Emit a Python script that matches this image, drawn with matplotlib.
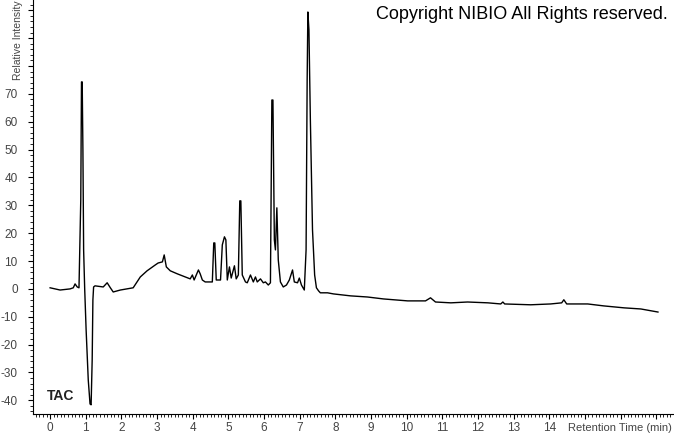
import matplotlib
matplotlib.use('Agg')
import matplotlib.pyplot as plt
from matplotlib.ticker import MultipleLocator, FixedLocator, FuncFormatter

# retention time (min) and relative intensity
time_min = [0.00, 0.28, 0.56, 0.65, 0.70, 0.76, 0.81, 0.86, 0.88, 0.90, 0.92, 0.94,
            0.97, 1.01, 1.07, 1.12, 1.15, 1.18, 1.20, 1.22, 1.26, 1.49, 1.60, 1.69,
            1.77, 1.97, 2.33, 2.53, 2.72, 2.95, 3.03, 3.15, 3.20, 3.26, 3.37, 3.57,
            3.79, 3.93, 3.99, 4.04, 4.16, 4.21, 4.27, 4.35, 4.55, 4.59, 4.62, 4.66,
            4.78, 4.83, 4.89, 4.93, 4.97, 5.03, 5.08, 5.17, 5.22, 5.28, 5.32, 5.35,
            5.39, 5.48, 5.53, 5.62, 5.70, 5.76, 5.81, 5.90, 5.98, 6.04, 6.12, 6.18,
            6.22, 6.25, 6.29, 6.32, 6.36, 6.40, 6.46, 6.54, 6.63, 6.71, 6.80, 6.85,
            6.94, 6.99, 7.05, 7.13, 7.18, 7.21, 7.23, 7.26, 7.30, 7.36, 7.42, 7.47,
            7.53, 7.58, 7.78, 7.95, 8.43, 8.90, 9.35, 10.03, 10.53, 10.67, 10.81,
            11.24, 11.71, 12.28, 12.64, 12.70, 12.75, 13.48, 14.04, 14.35, 14.41,
            14.49, 15.08, 15.53, 16.10, 16.57, 17.05]
intensity = [0.4, -0.4, 0.0, 0.4, 1.8, 0.7, 0.4, 32.0, 74.3, 74.3, 50.0, 14.0,
             0.0, -14.7, -32.7, -41.3, -41.6, -25.5, -4.0, 0.7, 1.1, 0.7, 2.2, 0.4,
             -1.1, -0.4, 0.4, 4.3, 6.5, 8.6, 9.3, 9.7, 12.2, 7.9, 6.5, 5.4,
             4.3, 3.6, 5.0, 3.2, 6.8, 5.4, 3.2, 2.5, 2.5, 16.5, 16.5, 3.2,
             3.2, 15.8, 18.7, 17.6, 3.2, 7.9, 3.9, 8.3, 3.6, 5.0, 31.6, 31.6,
             5.0, 2.5, 2.2, 5.0, 2.5, 4.3, 2.5, 3.6, 2.2, 2.5, 1.4, 2.2,
             67.8, 67.8, 17.6, 14.0, 29.1, 10.4, 2.5, 0.7, 1.4, 3.2, 6.8, 2.5,
             2.2, 3.9, 1.4, -0.4, 14.0, 75.0, 99.4, 93.0, 60.7, 21.2, 5.0, 0.4,
             -0.7, -1.4, -1.4, -1.8, -2.5, -2.9, -3.6, -4.3, -4.3, -3.2, -4.7,
             -5.0, -4.7, -5.0, -5.4, -4.7, -5.4, -5.7, -5.4, -5.0, -3.9,
             -5.4, -5.4, -6.1, -6.8, -7.2, -8.3]

x_major = list(range(0, 18))
x_labels = [str(v) for v in range(0, 15)]
y_major = list(range(-40, 110, 10))
y_labels = [str(v) for v in range(-40, 80, 10)]

plt.rcParams['font.family'] = ['Liberation Sans', 'DejaVu Sans']

fig = plt.figure(figsize=(6.74, 4.34), dpi=100)
ax = fig.add_axes([33 / 674, 20 / 434, 641 / 674, 414 / 434])

ax.plot(time_min, intensity, color='black', linewidth=1.0)

ax.set_xlim(-0.48, 17.5)
ax.set_ylim(-44.9, 103.7)

ax.spines['top'].set_visible(False)
ax.spines['right'].set_visible(False)

ax.xaxis.set_major_locator(FixedLocator(x_major))
ax.xaxis.set_minor_locator(MultipleLocator(0.1))
ax.xaxis.set_major_formatter(FuncFormatter(
    lambda v, p: str(int(round(v))) if str(int(round(v))) in x_labels else ''))
ax.yaxis.set_major_locator(FixedLocator(y_major))
ax.yaxis.set_minor_locator(MultipleLocator(2))
ax.yaxis.set_major_formatter(FuncFormatter(
    lambda v, p: str(int(round(v))) if str(int(round(v))) in y_labels else ''))

ax.tick_params(axis='both', which='major', length=3.5, width=0.8,
               labelsize=8.5, labelcolor='#444444')
ax.tick_params(axis='both', which='minor', length=2, width=0.6)
ax.tick_params(axis='x', which='major', pad=2.5)
ax.tick_params(axis='y', which='major', pad=7.5)

fig.text(18 / 674, 1 - 80 / 434, 'Relative Intensity', rotation=90,
         ha='center', va='bottom', fontsize=7.5, color='#444444')
fig.text(672 / 674, 3 / 434, 'Retention Time (min)', ha='right', va='baseline',
         fontsize=8, color='#444444')
fig.text(668 / 674, 1 - 6 / 434, 'Copyright NIBIO All Rights reserved.',
         ha='right', va='top', fontsize=13, color='black')
ax.text(47 / 674, 1 - 400 / 434, 'TAC', transform=fig.transFigure,
        ha='left', va='baseline', fontsize=10, fontweight='bold', color='#222222')

fig.savefig('out.png', dpi=100)
plt.close(fig)
